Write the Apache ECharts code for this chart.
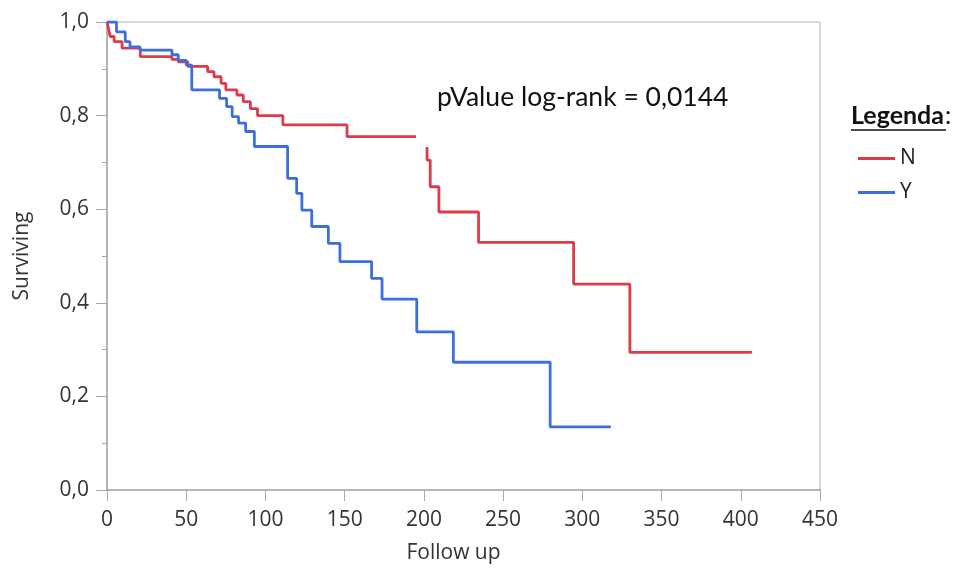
<!DOCTYPE html>
<html lang="en">
<head>
    <meta charset="utf-8">
    <title>Surviving vs Follow up</title>
    <script src="https://cdn.jsdelivr.net/npm/echarts@6/dist/echarts.min.js"></script>
    <style>
        html, body { margin: 0; padding: 0; background: #fff; }
        #main { width: 971px; height: 570px; }
    </style>
</head>
<body>
<div id="main"></div>
<script type="text/javascript">
// group N: event times and survival after each step
var nTime = [0, 1, 2, 4.5, 9.5, 21, 41, 45, 51, 63.5, 67.5, 72, 75, 82, 86, 90.5, 95, 111, 151.5, 202, 204, 209.5, 234.5, 294.5, 330, 407];
var nSurv = [1.0, 0.985, 0.969, 0.958, 0.944, 0.926, 0.92, 0.915, 0.905, 0.894, 0.883, 0.869, 0.855, 0.844, 0.830, 0.815, 0.800, 0.780, 0.755, 0.705, 0.648, 0.594, 0.529, 0.440, 0.294, 0.294];
// group Y
var yTime = [0, 6, 11.5, 14.5, 20.8, 41, 45, 50, 53.5, 71, 75.5, 79, 83, 87.5, 93, 114, 119.7, 123, 129.2, 139.7, 147, 167, 173.6, 195.5, 218.6, 279.7, 318];
var ySurv = [1.0, 0.979, 0.958, 0.947, 0.940, 0.930, 0.918, 0.908, 0.855, 0.837, 0.819, 0.798, 0.784, 0.766, 0.734, 0.666, 0.634, 0.598, 0.563, 0.527, 0.488, 0.452, 0.408, 0.338, 0.273, 0.135, 0.135];

var seriesNames = ['N', 'Y'];
var seriesColors = ['#dc3c4a', '#3c6fdd'];

function pairs(t, s) {
    var out = [];
    for (var i = 0; i < t.length; i++) out.push([t[i], s[i]]);
    return out;
}

var font = 'Open Sans';
var axisGrey = '#a8a8a8';
var myChart = echarts.init(document.getElementById('main'));

var option = {
    animation: false,
    title: {
        text: 'pValue log-rank = 0,0144',
        left: 416,
        top: 70,
        padding: [14, 20, 36, 21],
        backgroundColor: '#fff',
        textStyle: { fontFamily: 'Lato', fontSize: 26.5, fontWeight: 'normal', color: '#111' }
    },
    legend: {
        data: seriesNames,
        orient: 'vertical',
        left: 858,
        top: 148,
        padding: 0,
        itemWidth: 37,
        itemHeight: 3,
        itemGap: 13,
        icon: 'rect',
        textStyle: { fontFamily: font, fontSize: 21, color: '#222' }
    },
    graphic: [
        { type: 'text', left: 851, top: 103, z: 10,
          style: {
              text: '{b|Legenda}{n|:}',
              rich: {
                  b: { fontFamily: 'Lato', fontSize: 25, fontWeight: 'bold', fill: '#111' },
                  n: { fontFamily: 'Lato', fontSize: 25, fill: '#111', padding: [0, 0, 0, 1] }
              }
          } },
        { type: 'line', z: 10, shape: { x1: 851, y1: 130, x2: 946, y2: 130 },
          style: { stroke: '#111', lineWidth: 1.5 } }
    ],
    grid: {
        left: 107, right: 151, top: 22, bottom: 80,
        show: true, borderColor: '#b4b4b4', borderWidth: 1
    },
    xAxis: {
        type: 'value', min: 0, max: 450, interval: 50,
        name: 'Follow up', nameLocation: 'middle', nameGap: 53,
        nameTextStyle: { fontFamily: font, fontSize: 21, color: '#333', padding: [0, 20, 0, 0] },
        axisLine: { lineStyle: { color: axisGrey, width: 1.5 } },
        axisTick: { length: 11, lineStyle: { color: axisGrey } },
        axisLabel: { margin: 20, fontFamily: font, fontSize: 21, color: '#333' },
        splitLine: { show: false }
    },
    yAxis: {
        type: 'value', min: 0, max: 1, interval: 0.2,
        name: 'Surviving', nameLocation: 'middle', nameGap: 74,
        nameTextStyle: { fontFamily: font, fontSize: 21, color: '#333' },
        axisLine: { show: true, lineStyle: { color: axisGrey, width: 1.5 } },
        axisTick: { show: true, length: 11, lineStyle: { color: axisGrey } },
        minorTick: { show: true, splitNumber: 2, length: 5, lineStyle: { color: axisGrey } },
        axisLabel: {
            margin: 18, fontFamily: font, fontSize: 21, color: '#333',
            formatter: function (v) { return v.toFixed(1).replace('.', ','); }
        },
        splitLine: { show: false }
    },
    series: [
        {
            name: seriesNames[0], type: 'line', step: 'end', symbol: 'none',
            data: pairs(nTime, nSurv),
            lineStyle: { color: seriesColors[0], width: 2.8 },
            itemStyle: { color: seriesColors[0] }
        },
        {
            name: seriesNames[1], type: 'line', step: 'end', symbol: 'none',
            data: pairs(yTime, ySurv),
            lineStyle: { color: seriesColors[1], width: 2.8 },
            itemStyle: { color: seriesColors[1] }
        }
    ]
};

myChart.setOption(option);
</script>
</body>
</html>
